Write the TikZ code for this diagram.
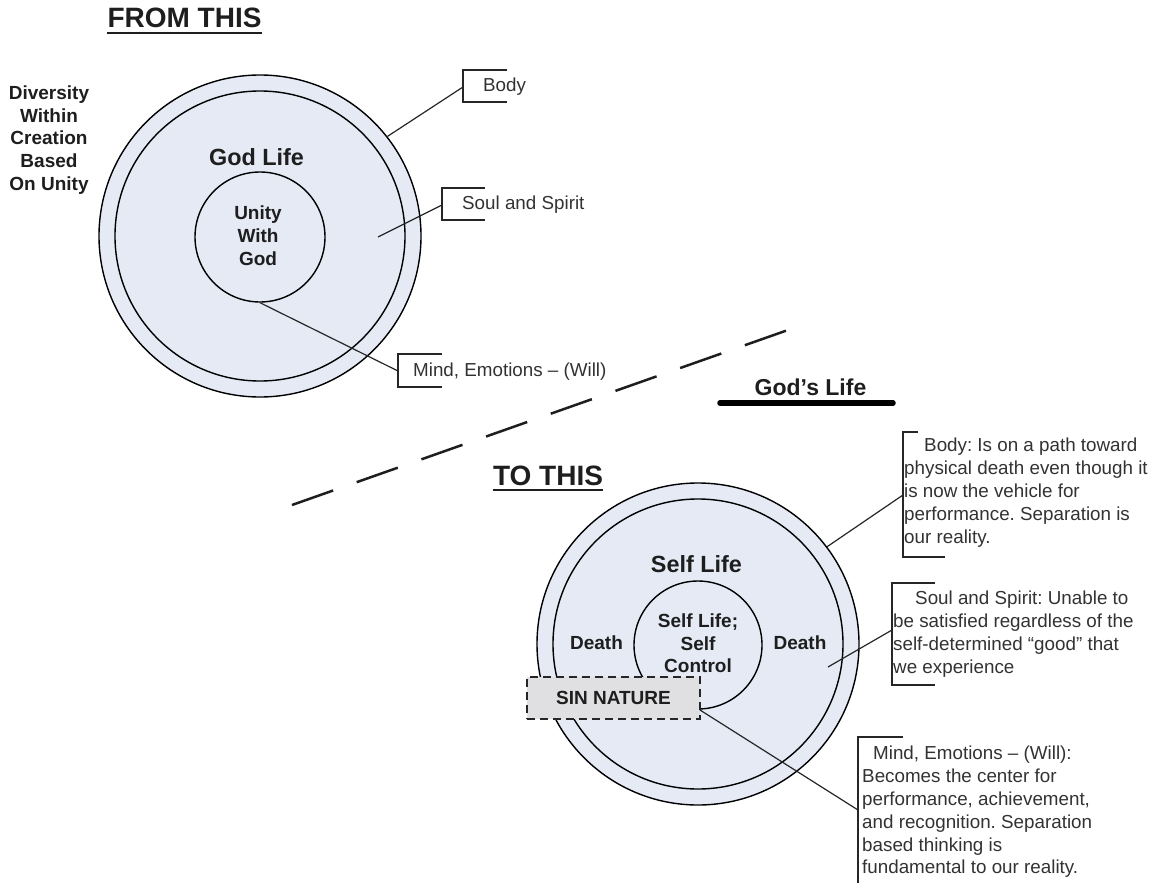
\documentclass[tikz,border=0pt]{standalone}
\usepackage{fontspec}
\setmainfont{Liberation Sans}
\usetikzlibrary{calc}
\definecolor{circfill}{RGB}{229,234,245}
\definecolor{sinfill}{RGB}{224,224,226}
\definecolor{txtdark}{RGB}{30,30,30}
\definecolor{txtlbl}{RGB}{50,50,50}
\frenchspacing
\begin{document}
\begin{tikzpicture}[x=1pt,y=-1pt,
  ring/.style={circle, draw=black, fill=circfill, line width=1.4pt, inner sep=0pt},
  boldlbl/.style={font=\fontsize{19}{22.8}\selectfont\bfseries, text=txtdark, inner sep=0pt, align=center},
  biglbl/.style={font=\fontsize{23.4}{28}\selectfont\bfseries, text=txtdark, inner sep=0pt},
  headlbl/.style={font=\fontsize{28}{32}\selectfont\bfseries, text=txtdark, inner sep=0pt, anchor=base},
  callout/.style={font=\fontsize{18.8}{22.8}\selectfont, text=txtlbl, inner sep=0pt, align=left, anchor=north west},
  shortlbl/.style={font=\fontsize{18.8}{22.8}\selectfont, text=txtlbl, inner sep=0pt, anchor=base west},
  bracket/.style={draw=black!85, line width=1.4pt},
  pointer/.style={draw=black!85, line width=1.2pt},
  headline/.style={draw=txtdark, line width=2.4pt},
]
\useasboundingbox (0,0) rectangle (1159,883);

% ---------- headings ----------
\node[headlbl] (fromthis) at (184.5,28) {FROM THIS};
\draw[headline] ([yshift=-5pt]fromthis.base west) -- ([yshift=-5pt]fromthis.base east);
\node[headlbl] (tothis) at (548,485) {TO THIS};
\draw[headline] ([yshift=-5pt]tothis.base west) -- ([yshift=-5pt]tothis.base east);

% ---------- top figure ----------
\node[boldlbl] (diversity) at (49,140) {Diversity\\Within\\Creation\\Based\\On Unity};
\node[ring, minimum size=322pt] (tOuter) at (260,236) {};
\node[ring, minimum size=290pt] (tRing) at (260,236) {};
\node[ring, minimum size=130pt] (tInner) at (260,237) {};
\node[biglbl] (godlife) at (256.5,157) {God Life};
\node[boldlbl] (unity) at (258,235.5) {Unity\\With\\God};

% callouts top
\coordinate (tBodyHook) at (463,87);
\coordinate (tSoulStart) at (378,237);
\coordinate (tSoulHook) at (442,205);
\coordinate (tMindHook) at (398,371);
\draw[bracket] (507,70) -- (463,70) -- (463,102) -- (507,102);
\draw[bracket] (485,188) -- (442,188) -- (442,220) -- (485,220);
\draw[bracket] (442,354) -- (398,354) -- (398,387) -- (442,387);
\node[shortlbl] (tBody) at (483,91.7) {Body};
\node[shortlbl] (tSoul) at (462,209.7) {Soul and Spirit};
\node[shortlbl] (tMind) at (413,376.7) {Mind, Emotions -- (Will)};
\draw[pointer] (tOuter.38) -- (tBodyHook);
\draw[pointer] (tSoulStart) -- (tSoulHook);
\draw[pointer] (tInner.south) -- (tMindHook);

% ---------- divider ----------
\coordinate (dashA) at (292,505);
\coordinate (dashB) at (788,330);
\draw[line width=2.5pt, draw=txtdark, dash pattern=on 43.6pt off 25pt] (dashA) -- (dashB);
\node[font=\fontsize{23}{28}\selectfont\bfseries, text=txtdark, inner sep=0pt] (godslife) at (810.5,387) {God’s Life};
\coordinate (gl1) at (720,403);
\coordinate (gl2) at (893,403);
\draw[line width=5.5pt, line cap=round, draw=black] (gl1) -- (gl2);

% ---------- bottom figure ----------
\node[ring, minimum size=322pt] (bOuter) at (698,644) {};
\node[ring, minimum size=290pt] (bRing) at (698,644) {};
\node[ring, minimum size=128pt] (bInner) at (698,645) {};
\node[biglbl] (selflife) at (696.5,564) {Self Life};
\node[boldlbl] (selfcontrol) at (698,643.3) {Self Life;\\Self\\Control};
\node[boldlbl] (deathL) at (596.5,643) {Death};
\node[boldlbl] (deathR) at (800,643) {Death};
\node[draw=black!85, fill=sinfill, line width=1.4pt, dash pattern=on 8pt off 5pt,
      minimum width=173pt, minimum height=42pt, inner sep=0pt,
      font=\fontsize{19}{22.8}\selectfont\bfseries, text=txtdark] (sin) at (613.5,698) {SIN NATURE};

% callouts bottom
\coordinate (bBodyHook) at (903,495);
\coordinate (bSoulStart) at (828,667);
\coordinate (bSoulHook) at (892,630);
\coordinate (bMindStart) at (700,710);
\coordinate (bMindHook) at (858,810);
\draw[bracket] (918,432) -- (903,432) -- (903,557) -- (945,557);
\draw[bracket] (935,583) -- (892,583) -- (892,685) -- (935,685);
\draw[bracket] (903,737) -- (858,737) -- (858,883);
\node[callout] (bBody) at (904,438) {\hspace*{20pt}Body: Is on a path toward\\physical death even though it\\is now the vehicle for\\performance. Separation is\\our reality.};
\node[callout] (bSoul) at (893,591) {\hspace*{22pt}Soul and Spirit: Unable to\\be satisfied regardless of the\\self-determined “good” that\\we experience};
\node[callout] (bMind) at (862,746) {\hspace*{11pt}Mind, Emotions -- (Will):\\Becomes the center for\\performance, achievement,\\and recognition. Separation\\based thinking is\\fundamental to our reality.};
\draw[pointer] (bOuter.37) -- (bBodyHook);
\draw[pointer] (bSoulStart) -- (bSoulHook);
\draw[pointer] (bMindStart) -- (bMindHook);
\end{tikzpicture}
\end{document}
